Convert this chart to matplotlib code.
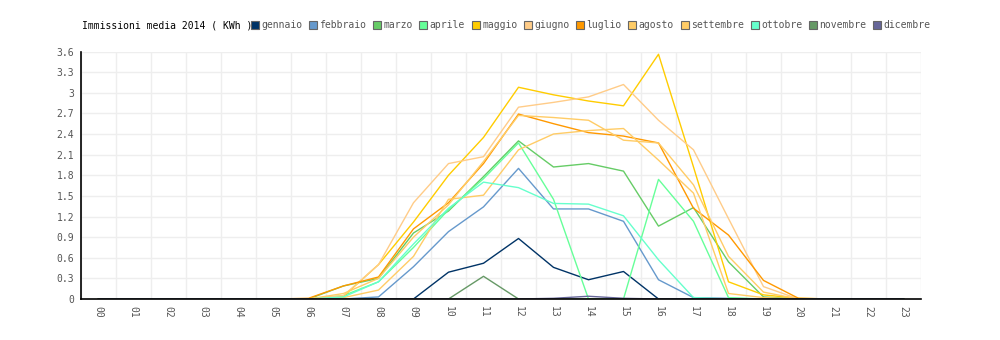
import matplotlib
matplotlib.use("Agg")
import matplotlib.pyplot as plt
from matplotlib.lines import Line2D

ore = ['%02d' % h for h in range(24)]

gennaio   = [0, 0, 0, 0, 0, 0, 0, 0, 0, 0, 0.39, 0.52, 0.88, 0.46, 0.28, 0.40, 0, 0, 0, 0, 0, 0, 0, 0]
febbraio  = [0, 0, 0, 0, 0, 0, 0, 0, 0.03, 0.47, 0.98, 1.34, 1.90, 1.31, 1.31, 1.13, 0.28, 0.02, 0.01, 0, 0, 0, 0, 0]
marzo     = [0, 0, 0, 0, 0, 0, 0, 0.19, 0.30, 0.96, 1.28, 1.78, 2.30, 1.92, 1.97, 1.86, 1.06, 1.33, 0.54, 0.03, 0, 0, 0, 0]
aprile    = [0, 0, 0, 0, 0, 0, 0, 0.05, 0.25, 0.75, 1.30, 1.75, 2.27, 1.45, 0, 0, 1.74, 1.13, 0.02, 0, 0, 0, 0, 0]
maggio    = [0, 0, 0, 0, 0, 0, 0, 0.04, 0.50, 1.12, 1.80, 2.35, 3.08, 2.97, 2.88, 2.81, 3.56, 1.92, 0.25, 0.06, 0.01, 0, 0, 0]
giugno    = [0, 0, 0, 0, 0, 0, 0, 0.05, 0.50, 1.40, 1.97, 2.07, 2.79, 2.86, 2.94, 3.12, 2.60, 2.17, 1.17, 0.18, 0, 0, 0, 0]
luglio    = [0, 0, 0, 0, 0, 0, 0.01, 0.19, 0.32, 1.02, 1.40, 1.97, 2.69, 2.55, 2.42, 2.37, 2.27, 1.32, 0.93, 0.27, 0.01, 0, 0, 0]
agosto    = [0, 0, 0, 0, 0, 0, 0, 0.08, 0.30, 0.90, 1.37, 2.00, 2.67, 2.64, 2.60, 2.31, 2.27, 1.66, 0.62, 0.10, 0, 0, 0, 0]
settembre = [0, 0, 0, 0, 0, 0, 0, 0.02, 0.13, 0.62, 1.45, 1.51, 2.17, 2.40, 2.45, 2.48, 2.02, 1.54, 0.08, 0.02, 0, 0, 0, 0]
ottobre   = [0, 0, 0, 0, 0, 0, 0, 0.03, 0.25, 0.80, 1.32, 1.70, 1.62, 1.39, 1.38, 1.21, 0.57, 0.02, 0, 0, 0, 0, 0, 0]
novembre  = [0, 0, 0, 0, 0, 0, 0, 0, 0, 0, 0, 0.33, 0, 0, 0, 0, 0, 0, 0, 0, 0, 0, 0, 0]
dicembre  = [0, 0, 0, 0, 0, 0, 0, 0, 0, 0, 0, 0, 0, 0.01, 0.04, 0.01, 0, 0, 0, 0, 0, 0, 0, 0]

mesi = ['gennaio', 'febbraio', 'marzo', 'aprile', 'maggio', 'giugno',
        'luglio', 'agosto', 'settembre', 'ottobre', 'novembre', 'dicembre']
serie = [gennaio, febbraio, marzo, aprile, maggio, giugno,
         luglio, agosto, settembre, ottobre, novembre, dicembre]
colori = ['#003366', '#6699CC', '#66CC66', '#66FF99', '#FFCC00', '#FFCC88',
          '#FF9900', '#FFCC66', '#FFCC66', '#66FFCC', '#669966', '#666699']

plt.rcParams['font.family'] = 'DejaVu Sans Mono'

fig = plt.figure(figsize=(10, 3.4), dpi=100)
ax = fig.add_axes([0.081, 0.1206, 0.84, 0.7279])

x = list(range(24))
for valori, col in zip(serie, colori):
    ax.plot(x, valori, color=col, lw=1.0, zorder=3)

ax.set_xlim(-0.5, 23.5)
ax.set_ylim(0, 3.6)
ax.set_xticks(x)
ax.set_xticklabels(ore, rotation=-90, fontsize=7, color='#555555')
ax.set_yticks([i * 0.3 for i in range(13)])
ax.set_yticklabels(['0', '0.3', '0.6', '0.9', '1.2', '1.5', '1.8', '2.1', '2.4',
                    '2.7', '3', '3.3', '3.6'], fontsize=7, color='#555555')
ax.tick_params(length=0, pad=5)
ax.set_xticks([i - 0.5 for i in range(25)], minor=True)
ax.tick_params(which='minor', length=0)
ax.grid(which='minor', axis='x', color='#eeeeee', lw=1)
ax.grid(which='major', axis='y', color='#eeeeee', lw=1)
ax.grid(which='major', axis='x', visible=False)
ax.set_axisbelow(True)
for s in ['top', 'right']:
    ax.spines[s].set_visible(False)
for s in ['left', 'bottom']:
    ax.spines[s].set_color('black')
    ax.spines[s].set_linewidth(1.2)
    ax.spines[s].set_zorder(4)

fig.text(0.082, 0.926, 'Immissioni media 2014 ( KWh )', fontsize=7,
         color='black', va='center', ha='left')

handles = [Line2D([], [], ls='none', marker='s', markersize=5.5,
                  markerfacecolor=c, markeredgecolor='#666666', markeredgewidth=0.8)
           for c in colori]
leg = fig.legend(handles, mesi, loc='center left', bbox_to_anchor=(0.251, 0.926),
                 ncol=12, frameon=False, fontsize=7, handlelength=0.8,
                 handletextpad=0.25, columnspacing=0.7, borderpad=0,
                 borderaxespad=0)
for t in leg.get_texts():
    t.set_color('#555555')

fig.savefig('out.png', dpi=100)
